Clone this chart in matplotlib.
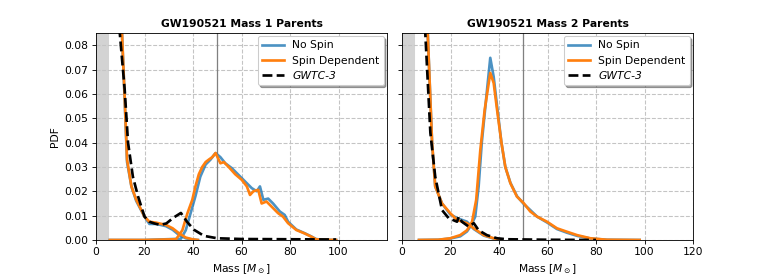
import numpy as np
import matplotlib
matplotlib.use("Agg")
import matplotlib.pyplot as plt

# ---- Mass 1 parents ----
m1_low_x = [10.0, 10.7, 11.8, 12.8, 14.6, 16.6, 20.0, 22.0, 24.8, 28.8, 31.6, 34.3, 37.0, 39.7, 42.0]
m1_low_spin = [0.12, 0.085, 0.059, 0.033, 0.022, 0.0165, 0.0096, 0.0075, 0.0071, 0.0062, 0.0048, 0.0027, 0.001, 0.0003, 0.0]
m1_low_nospin = [0.12, 0.085, 0.058, 0.032, 0.022, 0.016, 0.0096, 0.0066, 0.0066, 0.0057, 0.0042, 0.002, 0.0007, 0.0002, 0.0]

m1_high_x_spin = [5.7, 20.0, 33.0, 35.6, 37.7, 39.7, 41.0, 42.4, 43.8, 45.2, 46.5, 47.9, 49.3, 51.3, 52.7,
                  54.7, 57.4, 60.1, 62.2, 63.5, 64.9, 66.9, 68.3, 70.3, 72.4, 75.1, 77.1, 79.2, 82.6,
                  86.0, 88.7, 90.7, 93.0, 99.0]
m1_high_spin = [0.0, 0.0, 0.0003, 0.004, 0.011, 0.0165, 0.022, 0.027, 0.030, 0.032, 0.033, 0.034, 0.0357,
                0.0315, 0.032, 0.030, 0.027, 0.0247, 0.022, 0.0185, 0.020, 0.0206, 0.015, 0.0158, 0.0137,
                0.011, 0.0096, 0.0069, 0.0041, 0.0027, 0.0014, 0.0003, 0.0001, 0.0]
m1_high_x_nospin = [5.7, 20.0, 35.0, 37.0, 39.0, 41.0, 43.0, 45.2, 47.2, 49.3, 51.3, 53.3, 56.0, 58.8,
                    61.5, 64.2, 66.3, 67.6, 69.0, 71.0, 73.0, 75.8, 77.8, 79.2, 82.6, 86.0, 88.7,
                    90.7, 93.0, 99.0]
m1_high_nospin = [0.0, 0.0, 0.0005, 0.004, 0.011, 0.018, 0.026, 0.031, 0.033, 0.0357, 0.034, 0.0315,
                  0.0295, 0.0267, 0.024, 0.0213, 0.020, 0.022, 0.0165, 0.017, 0.015, 0.0117, 0.0103,
                  0.0075, 0.0043, 0.0028, 0.0015, 0.0004, 0.0001, 0.0]

m1_gwtc_x = [9.5, 9.8, 11.8, 13.2, 15.2, 17.3, 20.0, 22.0, 24.0, 26.5, 29.0, 32.0, 35.0, 37.5, 40.4,
             44.5, 50.0, 60.0, 80.0, 99.0]
m1_gwtc = [0.12, 0.085, 0.062, 0.040, 0.026, 0.018, 0.0096, 0.0075, 0.0068, 0.0062, 0.0068, 0.0092,
           0.0111, 0.0075, 0.0042, 0.0017, 0.0007, 0.0004, 0.0003, 0.0002]

# ---- Mass 2 parents ----
m2_low_x = [10.0, 10.6, 12.4, 13.7, 16.5, 19.9, 22.7, 26.8, 29.6, 33.7, 37.8, 41.0]
m2_low_spin = [0.12, 0.085, 0.040, 0.022, 0.015, 0.011, 0.0082, 0.0069, 0.0048, 0.002, 0.0007, 0.0]
m2_low_nospin = [0.12, 0.085, 0.040, 0.022, 0.015, 0.0105, 0.009, 0.0075, 0.0045, 0.0018, 0.0006, 0.0]

m2_high_x_spin = [7.0, 15.0, 19.9, 24.0, 26.8, 28.9, 30.6, 32.3, 34.1, 36.4, 37.8, 39.2, 41.0, 42.6,
                  44.7, 47.4, 50.2, 52.9, 55.7, 59.8, 63.9, 68.0, 72.2, 77.7, 84.5, 98.0]
m2_high_spin = [0.0, 0.0001, 0.0007, 0.002, 0.004, 0.0075, 0.0165, 0.037, 0.0535, 0.0686, 0.0645,
                0.0535, 0.040, 0.030, 0.0233, 0.0178, 0.0151, 0.0117, 0.0096, 0.0075, 0.0048,
                0.0034, 0.002, 0.0007, 0.0001, 0.0]
m2_high_x_nospin = [7.0, 15.0, 19.9, 24.0, 26.8, 28.5, 30.2, 31.6, 32.9, 34.8, 36.4, 37.8, 39.2, 41.0,
                    42.6, 44.7, 47.4, 50.2, 52.9, 55.7, 59.8, 63.9, 68.0, 72.2, 77.7, 84.5, 98.0]
m2_high_nospin = [0.0, 0.0001, 0.0006, 0.0015, 0.0035, 0.006, 0.0096, 0.022, 0.040, 0.059, 0.0748, 0.067,
                  0.055, 0.040, 0.030, 0.0235, 0.018, 0.0148, 0.0123, 0.0096, 0.0072, 0.0045,
                  0.003, 0.0017, 0.0006, 0.0001, 0.0]

m2_gwtc_x = [9.3, 9.6, 11.7, 13.7, 16.5, 19.2, 22.7, 23.4, 24.7, 27.5, 29.6, 31.6, 35.0, 39.2, 43.3,
             60.0, 80.0]
m2_gwtc = [0.12, 0.085, 0.044, 0.026, 0.0123, 0.009, 0.0075, 0.0096, 0.0075, 0.0055, 0.0069, 0.004,
           0.002, 0.0007, 0.0003, 0.0001, 0.0]

panels = [
    ("GW190521 Mass 1 Parents", m1_low_x, m1_low_nospin, m1_low_spin,
     m1_high_x_nospin, m1_high_nospin, m1_high_x_spin, m1_high_spin, m1_gwtc_x, m1_gwtc),
    ("GW190521 Mass 2 Parents", m2_low_x, m2_low_nospin, m2_low_spin,
     m2_high_x_nospin, m2_high_nospin, m2_high_x_spin, m2_high_spin, m2_gwtc_x, m2_gwtc),
]

blue = '#1f77b4'
orange = '#ff7f0e'

# drawn at a larger size and a lower dpi, so text and pads scale down together
fig, axes = plt.subplots(1, 2, figsize=(10, 275 / 77), dpi=77, sharey=True)
fig.subplots_adjust(left=0.1247, right=0.9, top=0.88, bottom=0.1273, wspace=0.0515)

for ax, (title, lx, lns, lsp, hxn, hns, hxs, hsp, gx, gy) in zip(axes, panels):
    ax.axvspan(0, 5, color='lightgray', zorder=0)
    ax.axvline(50, color='gray', lw=1.2, zorder=1)
    ax.plot(lx, lns, color=blue, lw=2.5, alpha=0.8, label='No Spin')
    ax.plot(hxn, hns, color=blue, lw=2.5, alpha=0.8)
    ax.plot(lx, lsp, color=orange, lw=2.5, label='Spin Dependent')
    ax.plot(hxs, hsp, color=orange, lw=2.5)
    ax.plot(gx, gy, color='black', lw=2.5, ls='--', label='GWTC-3')
    ax.set_xlim(0, 120)
    ax.set_ylim(0, 0.085)
    ax.grid(True, ls='--', color='#c4c4c4', lw=1)
    ax.set_axisbelow(True)
    ax.set_title(title, fontweight='bold', fontsize=10)
    ax.set_xlabel(r'Mass [$M_\odot$]')
    leg = ax.legend(loc='upper right', shadow=True, borderaxespad=0.3)
    leg.get_texts()[2].set_fontstyle('italic')

axes[0].set_xticks([0, 20, 40, 60, 80, 100])
axes[1].set_xticks([0, 20, 40, 60, 80, 100, 120])
axes[0].set_yticks(np.arange(0, 0.081, 0.01))
axes[0].set_ylabel('PDF')
axes[1].tick_params(labelleft=False)

fig.savefig('out.png', dpi=77)
